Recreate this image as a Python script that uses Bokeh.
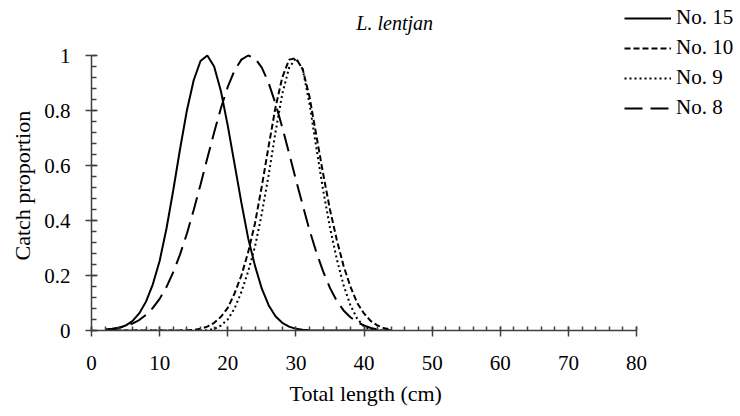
from bokeh.plotting import figure
from bokeh.models import Range1d, FixedTicker, Legend, LegendItem, Label, Title, ColumnDataSource
from bokeh.embed import file_html
from bokeh.resources import INLINE

# ---- data ----
length_cm = list(range(2, 45))

no15 = [0.002, 0.004, 0.009, 0.018, 0.034, 0.062, 0.105, 0.168, 0.253, 0.37,
        0.51, 0.66, 0.80, 0.91, 0.98, 1.0, 0.96, 0.87, 0.745, 0.605,
        0.465, 0.335, 0.235, 0.152, 0.092, 0.052, 0.028, 0.014, 0.006, 0.003,
        0.001, 0, 0, 0, 0, 0, 0, 0, 0, 0,
        0, 0, 0]

no10 = [0, 0, 0, 0, 0, 0, 0, 0, 0, 0,
        0, 0, 0.001, 0.002, 0.006, 0.014, 0.028, 0.05, 0.082, 0.135,
        0.20, 0.285, 0.39, 0.525, 0.67, 0.81, 0.92, 0.985, 0.99, 0.95,
        0.85, 0.71, 0.57, 0.44, 0.33, 0.235, 0.16, 0.10, 0.062, 0.034,
        0.018, 0.008, 0.003]

no9 = [0, 0, 0, 0, 0, 0, 0, 0, 0, 0,
       0, 0, 0, 0, 0, 0.001, 0.006, 0.018, 0.04, 0.08,
       0.14, 0.215, 0.305, 0.425, 0.565, 0.72, 0.86, 0.955, 0.99, 0.95,
       0.825, 0.665, 0.51, 0.375, 0.26, 0.165, 0.092, 0.043, 0.015, 0.003,
       0, 0, 0]

no8 = [0.004, 0.006, 0.01, 0.016, 0.025, 0.038, 0.057, 0.082, 0.115, 0.158,
       0.212, 0.277, 0.352, 0.438, 0.53, 0.626, 0.72, 0.809, 0.886, 0.946,
       0.985, 1.0, 0.99, 0.956, 0.90, 0.826, 0.739, 0.645, 0.549, 0.456,
       0.365, 0.285, 0.215, 0.155, 0.108, 0.073, 0.048, 0.031, 0.018, 0.009,
       0.004, 0.001, 0]

series_names = ["No. 15", "No. 10", "No. 9", "No. 8"]

x_ticks = [0, 10, 20, 30, 40, 50, 60, 70, 80]
x_tick_labels = ["0", "10", "20", "30", "40", "50", "60", "70", "80"]
y_ticks = [0, 0.2, 0.4, 0.6, 0.8, 1.0]
y_tick_labels = ["0", "0.2", "0.4", "0.6", "0.8", "1"]

title_text = "L. lentjan"
x_label = "Total length (cm)"
y_label = "Catch proportion"

FONT = "Liberation Serif"
AXIS_COLOR = "#404040"

# The frame is widened/heightened beyond the axes so the legend and the title
# (which sit above / right of the axes in the reference) are not clipped.
p = figure(width=738, height=416, output_backend="svg", toolbar_location=None,
           x_range=Range1d(0, 94.97), y_range=Range1d(0, 1.2),
           min_border_left=91, min_border_right=0, min_border_top=0, min_border_bottom=86)
p.outline_line_color = None
p.grid.visible = False
p.background_fill_color = "white"
p.border_fill_color = "white"

src = ColumnDataSource(dict(x=length_cm, no15=no15, no10=no10, no9=no9, no8=no8))

r8 = p.line("x", "no8", source=src, line_color="black", line_width=2, line_dash="18 8")
r9 = p.line("x", "no9", source=src, line_color="black", line_width=2, line_dash="2 3")
r10 = p.line("x", "no10", source=src, line_color="black", line_width=2, line_dash="6 3")
r15 = p.line("x", "no15", source=src, line_color="black", line_width=2)

for ax in (p.xaxis[0], p.yaxis[0]):
    ax.axis_line_color = AXIS_COLOR
    ax.axis_line_width = 1.5
    ax.major_tick_line_color = AXIS_COLOR
    ax.major_tick_line_width = 1.5
    ax.minor_tick_line_color = AXIS_COLOR
    ax.minor_tick_line_width = 1.5
    ax.major_label_text_font = FONT
    ax.major_label_text_font_size = "21px"
    ax.major_label_text_color = "black"

xa = p.xaxis[0]
xa.bounds = (0, 80)
xa.ticker = FixedTicker(ticks=x_ticks, minor_ticks=list(range(0, 81, 2)))
xa.major_label_overrides = dict(zip(x_ticks, x_tick_labels))
xa.major_tick_in = 4
xa.major_tick_out = 6
xa.minor_tick_in = 4
xa.minor_tick_out = 0
xa.major_label_standoff = 19

ya = p.yaxis[0]
ya.bounds = (0, 1)
ya.ticker = FixedTicker(ticks=y_ticks, minor_ticks=[round(i * 0.04, 2) for i in range(26)])
ya.major_label_overrides = dict(zip(y_ticks, y_tick_labels))
ya.major_tick_in = 6
ya.major_tick_out = 6
ya.minor_tick_in = 5
ya.minor_tick_out = 0
ya.major_label_standoff = 15

# axis titles, placed along the axis spans (not the widened frame)
p.add_layout(Title(text=x_label, align="left", offset=198, standoff=13,
                   text_font=FONT, text_font_size="22px", text_font_style="normal",
                   text_color="black"), "below")
p.add_layout(Title(text=y_label, align="left", offset=70, standoff=13,
                   text_font=FONT, text_font_size="22px", text_font_style="normal",
                   text_color="black"), "left")

legend = Legend(
    items=[LegendItem(label=n, renderers=[r]) for n, r in zip(series_names, [r15, r10, r9, r8])],
    location=(533, 210), orientation="vertical",
    glyph_width=47, glyph_height=24, label_height=24, label_width=10,
    label_standoff=5, spacing=5, padding=0, margin=0,
    border_line_color=None, background_fill_alpha=0,
    label_text_font=FONT, label_text_font_size="21px", label_text_color="black")
p.add_layout(legend, "center")

p.add_layout(Label(x=44.5, y=1.12, text=title_text, text_font=FONT,
                   text_font_style="italic", text_font_size="20px",
                   text_align="center", text_baseline="middle", text_color="black"))

open("out.html", "w").write(file_html(p, INLINE))
